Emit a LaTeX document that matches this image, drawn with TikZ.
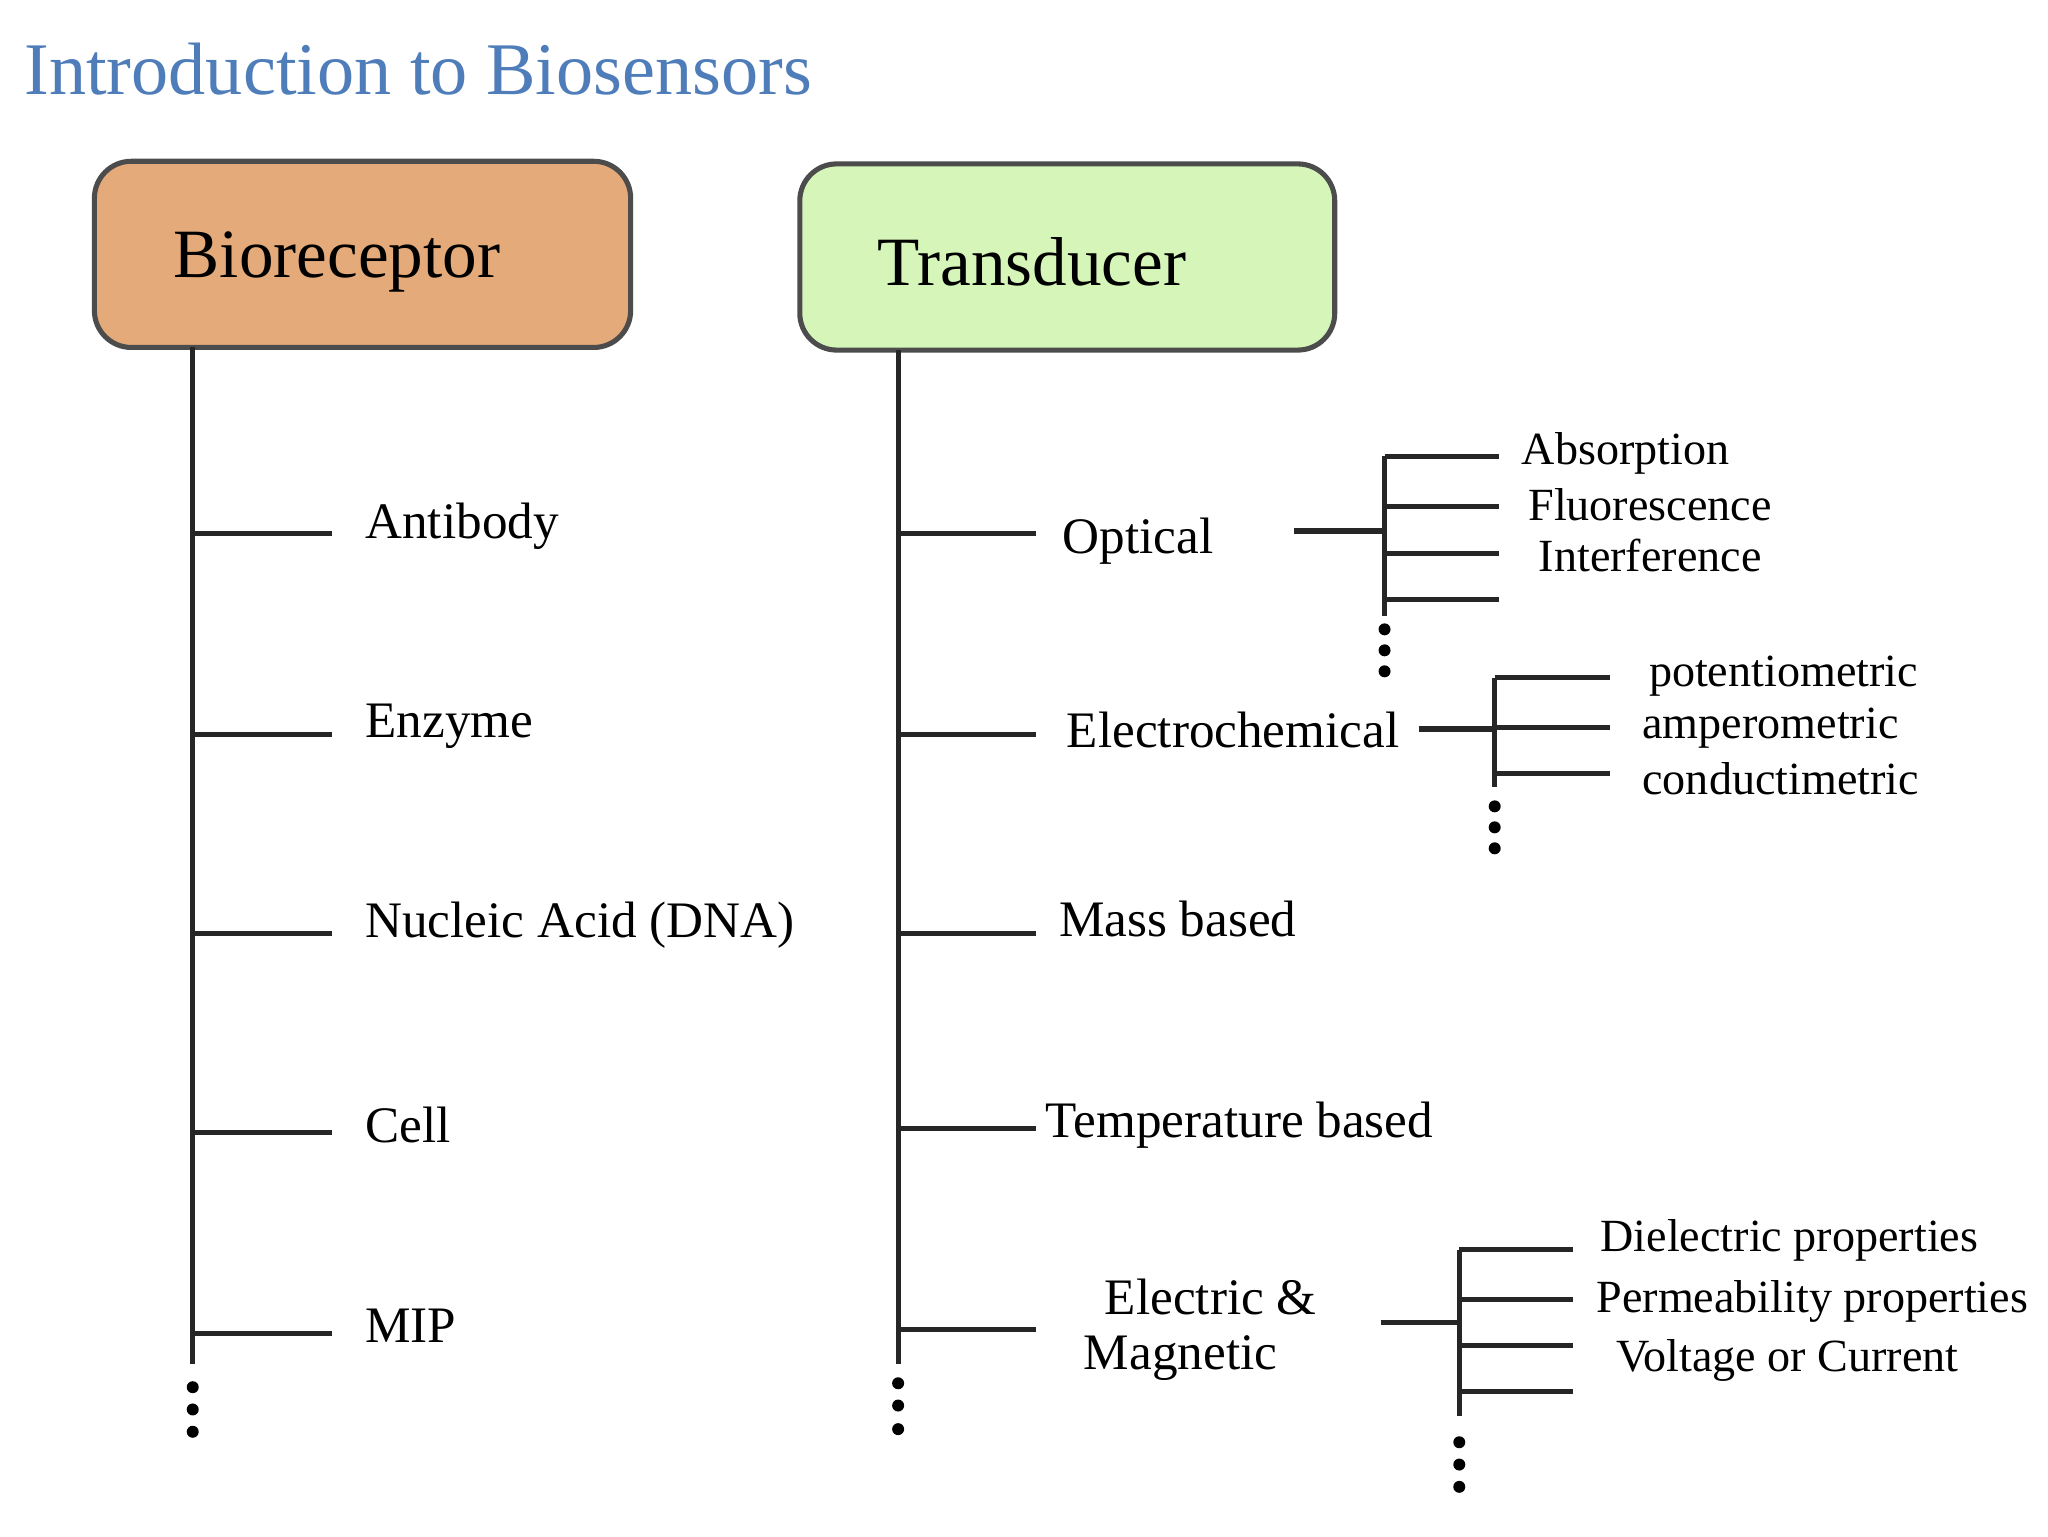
\documentclass[tikz,border=0pt]{standalone}
\usepackage{fontspec}
\setmainfont{Liberation Serif}
\begin{document}
\begin{tikzpicture}[x=0.01cm,y=-0.01cm,
  ln/.style={line width=1.1pt,black!85},
  it/.style={anchor=west,inner sep=0pt,font=\fontsize{11.1}{13}\selectfont},
  sm/.style={anchor=west,inner sep=0pt,font=\fontsize{10}{12}\selectfont},
  bx/.style={draw=black!70,line width=1.1pt,rounded corners=8pt},
  dot/.style={circle,fill=black,inner sep=0pt,minimum size=2.6pt}]
\useasboundingbox (0,0) rectangle (1562,1172);
\node[anchor=base west,inner sep=0pt,font=\fontsize{16.1}{18}\selectfont,text={rgb,255:red,79;green,125;blue,186}] (title) at (18,72) {Introduction to Biosensors};
% boxes
\draw[bx,fill={rgb,255:red,228;green,170;blue,122}] (72,123) rectangle (481,265);
\node[inner sep=0pt,font=\fontsize{15}{17}\selectfont] (biot) at (257,200) {Bioreceptor};
\draw[bx,fill={rgb,255:red,214;green,245;blue,185}] (610,125) rectangle (1018,267);
\node[inner sep=0pt,font=\fontsize{15}{17}\selectfont] (trt) at (787,200) {Transducer};
% left trunk
\coordinate (L0) at (147,265); \coordinate (L1) at (147,1040);
\draw[ln] (L0) -- (L1);
\foreach \y/\t [count=\i] in {407/Antibody,560/Enzyme,712/Nucleic Acid (DNA),864/Cell,1017/MIP}{
  \coordinate (la\i) at (147,\y); \coordinate (lb\i) at (253,\y);
  \draw[ln] (la\i) -- (lb\i);
  \node[it] (lt\i) at (278,\y-6) {\t};}
\foreach \y in {1058,1075,1092} \node[dot] at (147,\y) {};
% right trunk
\coordinate (R0) at (685,267); \coordinate (R1) at (685,1040);
\draw[ln] (R0) -- (R1);
\foreach \y [count=\i] in {407,560,712,861,1014}{
  \coordinate (ra\i) at (685,\y); \coordinate (rb\i) at (790,\y);
  \draw[ln] (ra\i) -- (rb\i);}
\foreach \y in {1055,1072,1090} \node[dot] at (685,\y) {};
\node[it] (opt) at (810,413) {Optical};
\node[it] (ele) at (813,557) {Electrochemical};
\node[it] (mas) at (807,701) {Mass based};
\node[it] (tem) at (797,858) {Temperature based};
\node[it] (em1) at (842,989) {Electric \&};
\node[it] (em2) at (826,1036) {Magnetic};
% optical bracket
\coordinate (o0) at (987,405); \coordinate (o1) at (1056,405);
\draw[ln] (o0) -- (o1);
\draw[ln] (1056,348) -- (1056,470);
\foreach \y in {348,386,422,457} \draw[ln] (1056,\y) -- (1143,\y);
\foreach \y in {480,496,512} \node[dot] at (1056,\y) {};
\node[sm] at (1160,346) {Absorption};
\node[sm] at (1165,385) {Fluorescence};
\node[sm] at (1173,424) {Interference};
% electrochemical bracket
\coordinate (e0) at (1082,556); \coordinate (e1) at (1140,556);
\draw[ln] (e0) -- (e1);
\draw[ln] (1140,517) -- (1140,600);
\foreach \y in {517,555,590} \draw[ln] (1140,\y) -- (1228,\y);
\foreach \y in {615,631,647} \node[dot] at (1140,\y) {};
\node[sm] at (1257,516) {potentiometric};
\node[sm] at (1252,555) {amperometric};
\node[sm] at (1252,594) {conductimetric};
% electric bracket
\coordinate (m0) at (1053,1009); \coordinate (m1) at (1113,1009);
\draw[ln] (m0) -- (m1);
\draw[ln] (1113,953) -- (1113,1080);
\foreach \y in {953,991,1026,1061} \draw[ln] (1113,\y) -- (1200,\y);
\foreach \y in {1100,1117,1134} \node[dot] at (1113,\y) {};
\node[sm] at (1220,946) {Dielectric properties};
\node[sm] at (1217,993) {Permeability properties};
\node[sm] at (1232,1038) {Voltage or Current};
\end{tikzpicture}
\end{document}
